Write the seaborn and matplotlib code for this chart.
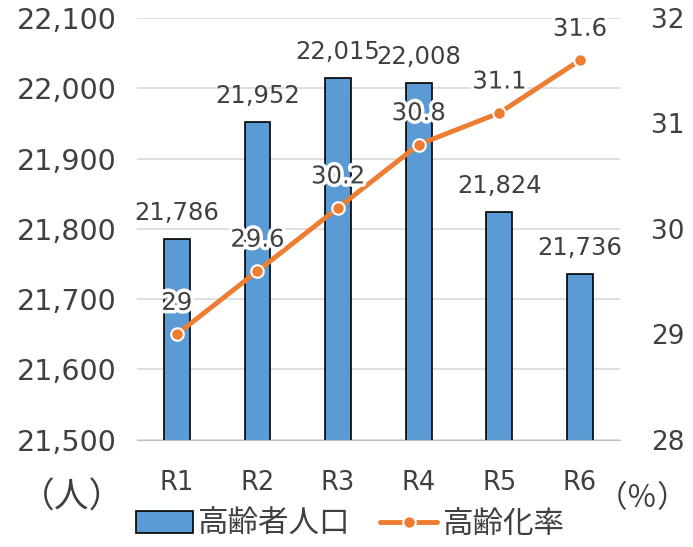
import pandas as pd
import matplotlib.pyplot as plt
import matplotlib.patheffects as pe
import seaborn as sns

# ---- data ----
years = ['R1', 'R2', 'R3', 'R4', 'R5', 'R6']
elderly_pop = [21786, 21952, 22015, 22008, 21824, 21736]
aging_rate = [29.0, 29.6, 30.2, 30.8, 31.1, 31.6]
rate_labels = ['29', '29.6', '30.2', '30.8', '31.1', '31.6']

df = pd.DataFrame({'year': years, 'pop': elderly_pop, 'rate': aging_rate})

sns.set_style('white')
plt.rcParams['font.family'] = ['DejaVu Sans', 'Noto Sans CJK JP']

text_col = '#404040'
bar_col = '#5B9BD5'
line_col = '#ED7D31'
lab_fs = 17.5

fig = plt.figure(figsize=(6.93, 5.47), dpi=100)
ax = fig.add_axes([0.197, 0.196, 0.698, 0.771])

sns.barplot(data=df, x='year', y='pop', ax=ax, color=bar_col, width=0.32,
            edgecolor='black', linewidth=1.2, saturation=1)
ax.set_ylim(21500, 22100)
ax.set_yticks(range(21500, 22101, 100))
ax.set_yticklabels([f'{v:,}' for v in range(21500, 22101, 100)])
ax.set_xlim(-0.5, 5.5)
ax.yaxis.grid(True, color='#d9d9d9', linewidth=1.2)
ax.set_axisbelow(True)
for s in ['top', 'left', 'right']:
    ax.spines[s].set_visible(False)
ax.spines['bottom'].set_color('#bfbfbf')
ax.set_xlabel('')
ax.set_ylabel('')
ax.tick_params(axis='x', length=0, labelsize=18.5, colors=text_col, pad=22)
ax.tick_params(axis='y', length=0, labelsize=20.5, colors=text_col, pad=14)

# bar value labels
for i, v in enumerate(elderly_pop):
    ax.annotate(f'{v:,}', (i, v), xytext=(0, 10), textcoords='offset points',
                ha='center', va='bottom', fontsize=lab_fs, color=text_col)

ax2 = ax.twinx()
sns.pointplot(data=df, x='year', y='rate', ax=ax2, color=line_col,
              markers='o', markersize=9, linewidth=3.5,
              markeredgecolor='white', markeredgewidth=1.5)
ax2.set_ylim(28, 32)
ax2.set_yticks([28, 29, 30, 31, 32])
ax2.set_xlim(-0.5, 5.5)
for s in ['top', 'left', 'right', 'bottom']:
    ax2.spines[s].set_visible(False)
ax2.set_ylabel('')
ax2.set_xlabel('')
ax2.tick_params(axis='y', length=0, labelsize=19, colors=text_col, pad=22)

for i, (v, lab) in enumerate(zip(aging_rate, rate_labels)):
    ax2.annotate(lab, (i, v), xytext=(0, 14), textcoords='offset points',
                 ha='center', va='bottom', fontsize=lab_fs, color=text_col,
                 path_effects=[pe.withStroke(linewidth=5, foreground='white')])

fig.text(0.104, 0.091, '（人）', fontsize=25, color=text_col, ha='center', va='center')
fig.text(0.927, 0.088, '（％）', fontsize=22, color=text_col, ha='center', va='center')

handles = [ax.patches[0], ax2.lines[0]]
fig.legend(handles, ['高齢者人口', '高齢化率'], loc='center',
           bbox_to_anchor=(0.505, 0.042), ncol=2, frameon=False,
           fontsize=22, handlelength=1.85, columnspacing=1.0,
           handletextpad=0.15, labelcolor=text_col, borderpad=0)

fig.savefig('out.png', dpi=100)
